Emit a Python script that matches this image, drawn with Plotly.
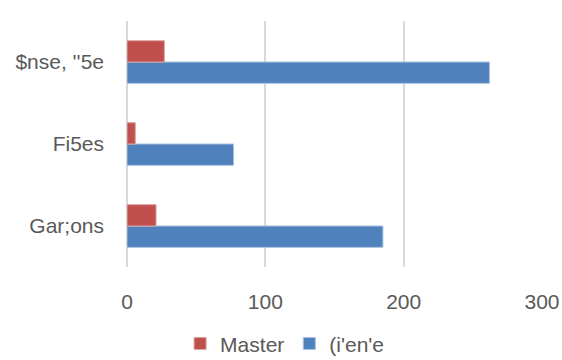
import plotly.graph_objects as go

categories = ["Gar;ons", "Fi5es", "$nse, ''5e"]
master = [21, 6, 27]
licence = [185, 77, 262]
tick_vals = [0, 100, 200, 300]

font = dict(family="Liberation Sans, Arial", size=21, color="#595959")

fig = go.Figure()
fig.add_trace(go.Bar(y=categories, x=licence, name="(i'en'e", orientation="h",
                     marker=dict(color="#4F81BD", line=dict(color="#A7C0DE", width=1)),
                     legendrank=2))
fig.add_trace(go.Bar(y=categories, x=master, name="Master", orientation="h",
                     marker=dict(color="#C0504D", line=dict(color="#DCA3A1", width=1)),
                     legendrank=1))

fig.update_layout(
    width=562, height=360,
    margin=dict(l=127, r=20, t=21, b=93),
    paper_bgcolor="white", plot_bgcolor="white",
    barmode="group", bargap=0.48, bargroupgap=0,
    font=font,
    showlegend=True,
    legend=dict(orientation="h", x=0.128, xanchor="left", yref="container",
                y=0.045, yanchor="middle",
                font=font, traceorder="normal", itemwidth=30),
    xaxis=dict(range=[0, 300], tickvals=tick_vals, showgrid=True, gridcolor="#D9D9D9",
               gridwidth=1.5, zeroline=True, zerolinecolor="#D9D9D9", zerolinewidth=1.5,
               ticks="", ticklen=0, tickfont=font, showline=False, automargin=False,
               ticklabelstandoff=20),
    yaxis=dict(showgrid=False, ticks="", tickfont=font, ticklabelstandoff=22,
               showline=False, automargin=False),
)

fig.write_html(
    "out.html",
    config={"displayModeBar": False},
    post_script="document.body.style.margin='0';document.body.style.overflow='hidden';",
)
